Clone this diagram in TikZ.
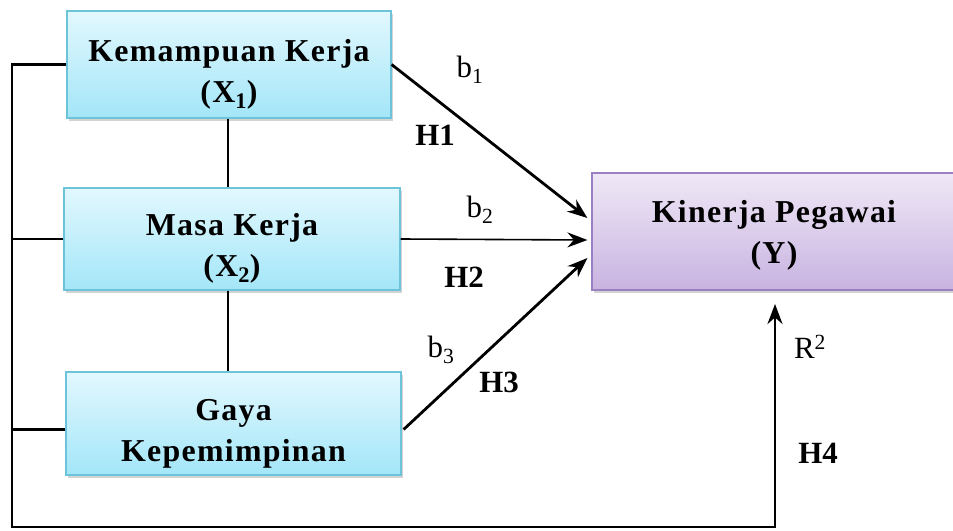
\documentclass[tikz,border=0pt]{standalone}
\usepackage{fontspec}
\setmainfont{Liberation Serif}
\newfontfamily\boxfont[LetterSpace=4]{Liberation Serif}
\usetikzlibrary{shadows,calc,arrows.meta}
\definecolor{cyantop}{HTML}{E2F8FE}
\definecolor{cyanbot}{HTML}{A3E6F8}
\definecolor{cyanedge}{HTML}{6CC3DA}
\definecolor{purtop}{HTML}{EFE8F6}
\definecolor{purbot}{HTML}{C8B3E0}
\definecolor{puredge}{HTML}{9A80C2}
\newcommand{\pushdown}[1]{\rule{0pt}{#1}}
\tikzset{
  varbox/.style={draw=cyanedge, line width=1.2bp, top color=cyantop, bottom color=cyanbot,
    align=center, inner sep=0pt, font=\boxfont\fontsize{32}{41}\selectfont\bfseries,
    drop shadow={shadow xshift=2bp, shadow yshift=-3bp, opacity=.35}},
  ybox/.style={draw=puredge, line width=1.2bp, top color=purtop, bottom color=purbot,
    align=center, inner sep=0pt, font=\boxfont\fontsize{32}{41}\selectfont\bfseries,
    drop shadow={shadow xshift=2bp, shadow yshift=-3bp, opacity=.35}},
  link/.style={line width=2.8bp},
  arr/.style={line width=2.8bp, -{Stealth[length=20bp,width=15bp]}},
  thinarr/.style={line width=1.6bp, -{Stealth[length=20bp,width=15bp]}},
  lab/.style={font=\fontsize{31}{36}\selectfont, inner sep=0pt},
  blab/.style={font=\fontsize{31}{36}\selectfont\bfseries, inner sep=0pt},
}
\begin{document}
\begin{tikzpicture}[x=1bp,y=-1bp]
\useasboundingbox (0,0) rectangle (953,531);
\node[varbox, minimum width=324bp, minimum height=107bp] (x1) at (229,64.5) {\pushdown{41bp}Kemampuan Kerja\\(X\textsubscript{1})};
\node[varbox, minimum width=336bp, minimum height=102bp] (x2) at (232,239) {\pushdown{41bp}Masa Kerja\\(X\textsubscript{2})};
\node[varbox, minimum width=335bp, minimum height=103bp] (x3) at (233.5,423.5) {\pushdown{42bp}Gaya\\Kepemimpinan};
\node[ybox, minimum width=364bp, minimum height=117bp] (y) at (774,231.5) {\pushdown{30bp}Kinerja Pegawai\\(Y)};

\coordinate (lt) at (12,64.5);
\coordinate (lb) at (12,527);
\coordinate (rb) at (775,527);
\coordinate (rt) at (775,304);

\draw[link] ([xshift=-1bp]x1.south) -- ([xshift=-1bp]x1.south |- x2.north);
\draw[link] ([xshift=-1bp]x1.south |- x2.south) -- ([xshift=-1bp]x1.south |- x3.north);

\draw[link, -{Stealth[length=20bp,width=15bp]}] (x1.west) -- (lt) -- (lb) -- (rb) -- (rt);
\draw[link] (x2.west) -- (x2.west -| lt);
\draw[link] ($(x3.west)+(0,6)$) -- ($(x3.west -| lt)+(0,6)$);

\draw[arr] (x1.east) -- ($(y.west)+(-4,-13.5)$);
\draw[thinarr] (x2.east) -- ($(y.west)+(-4,8.5)$);
\draw[arr] ($(x3.east)+(2,6)$) -- ($(y.west)+(-4,26.5)$);

\node[lab] (b1) at (470,70) {b\textsubscript{1}};
\node[blab] (h1) at (435,135) {H1};
\node[lab] (b2) at (480,210) {b\textsubscript{2}};
\node[blab] (h2) at (464,277) {H2};
\node[lab] (b3) at (441,350) {b\textsubscript{3}};
\node[blab] (h3) at (499,382) {H3};
\node[lab] (r2) at (810,347) {R\textsuperscript{2}};
\node[blab] (h4) at (818,453) {H4};
\end{tikzpicture}
\end{document}
